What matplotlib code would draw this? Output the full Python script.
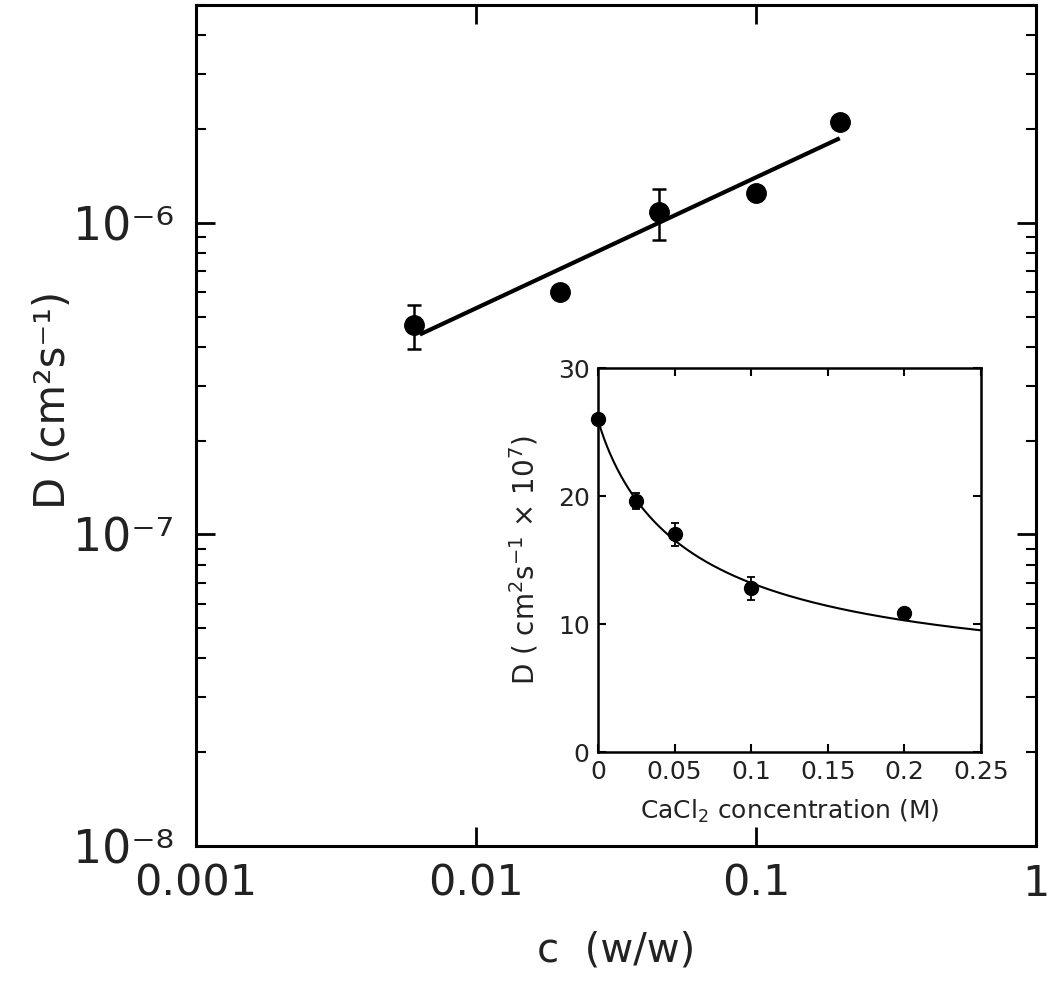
import numpy as np
import matplotlib
matplotlib.use("Agg")
import matplotlib.pyplot as plt
from matplotlib.ticker import LogLocator, FixedLocator, NullLocator, FuncFormatter

# main panel: D vs c (log-log)
c_main = [0.006, 0.02, 0.045, 0.1, 0.2]
D_main = [4.7e-7, 6.0e-7, 1.08e-6, 1.25e-6, 2.1e-6]
D_main_err = [0.75e-7, 0.0, 0.2e-6, 0.0, 0.0]
x_ticks_main = [0.001, 0.01, 0.1, 1]
x_ticklabels_main = ["0.001", "0.01", "0.1", "1"]

# power-law fit  D = A * c^n
fit_A = 3.68e-6
fit_n = 0.42
fit_range = (0.0064, 0.196)

# inset: D vs CaCl2 concentration
cacl2 = [0.0, 0.025, 0.05, 0.1, 0.2]
D_inset = [26.0, 19.6, 17.0, 12.8, 10.9]
D_inset_err = [0.4, 0.6, 0.9, 0.9, 0.3]
inset_xticks = [0, 0.05, 0.1, 0.15, 0.2, 0.25]
inset_xticklabels = ["0", "0.05", "0.1", "0.15", "0.2", "0.25"]
inset_yticks = [0, 10, 20, 30]

# inset fit curve  D = a + b / (1 + (c/k)^p)
ins_a, ins_b, ins_k, ins_p = 5.0, 21.0, 0.062, 0.93

txt = "#222222"
plt.rcParams["font.family"] = ["DejaVu Sans"]
plt.rcParams["mathtext.default"] = "regular"

SUP = str.maketrans("-0123456789", "⁻⁰¹²³⁴⁵⁶⁷⁸⁹")

def log_label(v, pos):
    return "10" + str(int(round(np.log10(v)))).translate(SUP)

fig = plt.figure(figsize=(10.5, 10.05), dpi=100)
ax = fig.add_axes([0.18667, 0.1582, 0.8, 0.8368])

xf = np.logspace(np.log10(fit_range[0]), np.log10(fit_range[1]), 100)
ax.plot(xf, fit_A * xf ** fit_n, color="black", lw=3.0, zorder=2)
ax.errorbar(c_main, D_main, yerr=D_main_err, fmt="o", color="black",
            ms=14, capsize=5, elinewidth=1.8, capthick=1.8, zorder=3)

ax.set_xscale("log")
ax.set_yscale("log")
ax.set_xlim(0.001, 1)
ax.set_ylim(1e-8, 5e-6)

ax.xaxis.set_major_locator(FixedLocator(x_ticks_main))
ax.xaxis.set_minor_locator(NullLocator())
ax.set_xticklabels(x_ticklabels_main)
ax.yaxis.set_major_locator(LogLocator(base=10, numticks=10))
ax.yaxis.set_minor_locator(LogLocator(base=10, subs=np.arange(2, 10), numticks=10))
ax.yaxis.set_major_formatter(FuncFormatter(log_label))

ax.tick_params(which="both", direction="in", top=True, right=True, colors="black",
               labelcolor=txt)
ax.tick_params(which="major", length=14, width=2, labelsize=31, pad=12)
ax.tick_params(which="minor", length=7, width=1.5)
ax.tick_params(axis="y", which="major", pad=16, labelsize=33)
for s in ax.spines.values():
    s.set_linewidth(2.2)

ax.set_xlabel("c  (w/w)", fontsize=29, color=txt)
ax.xaxis.set_label_coords(0.5, -0.10)
ax.set_ylabel("D (cm²s⁻¹)", fontsize=30, color=txt)
ax.yaxis.set_label_coords(-0.145, 0.53)

# inset
axi = fig.add_axes([0.5695, 0.2517, 0.3648, 0.3821])
xc = np.linspace(0, 0.25, 300)
axi.plot(xc, ins_a + ins_b / (1 + (xc / ins_k) ** ins_p), color="black", lw=1.5, zorder=2)
axi.errorbar(cacl2, D_inset, yerr=D_inset_err, fmt="o", color="black", ms=10,
             capsize=3, elinewidth=1.3, capthick=1.3, zorder=3, clip_on=False)
axi.set_xlim(0, 0.25)
axi.set_ylim(0, 30)
axi.set_xticks(inset_xticks)
axi.set_xticklabels(inset_xticklabels)
axi.set_yticks(inset_yticks)
axi.tick_params(direction="in", top=True, right=True, length=6, width=1.5,
                labelsize=18, labelcolor=txt, pad=6)
for s in axi.spines.values():
    s.set_linewidth(1.8)
axi.set_xlabel(r"CaCl$_2$ concentration (M)", fontsize=18, color=txt)
axi.xaxis.set_label_coords(0.5, -0.12)
axi.set_ylabel(r"D ( cm$^2$s$^{-1}$ $\times$ 10$^7$)", fontsize=20, color=txt)
axi.yaxis.set_label_coords(-0.15, 0.5)

fig.savefig("out.png", dpi=100)
